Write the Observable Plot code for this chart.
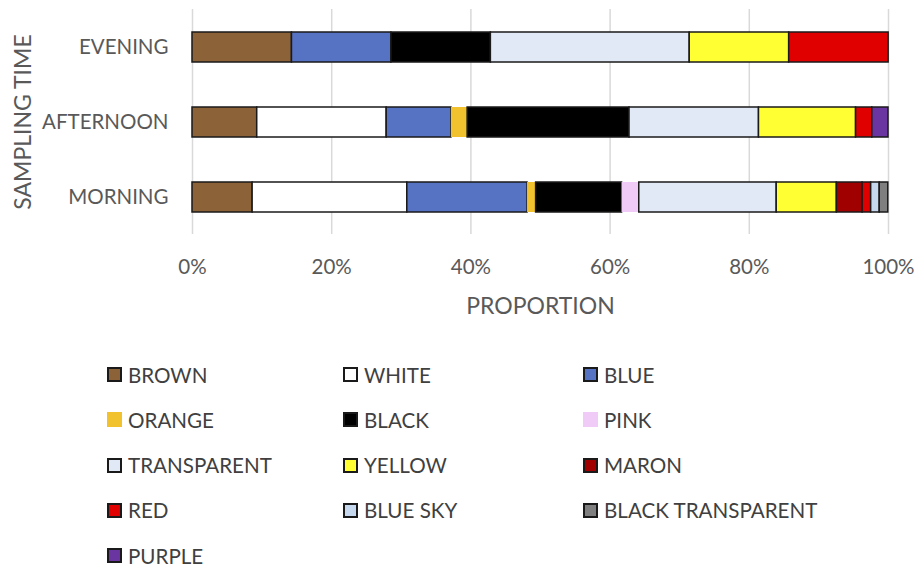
<!DOCTYPE html>
<html><head><meta charset="utf-8">
<script src="https://cdn.jsdelivr.net/npm/d3@7"></script>
<script src="https://cdn.jsdelivr.net/npm/@observablehq/plot@0.6"></script>
<style>
body{margin:0;background:#fff;font-family:Lato,"Open Sans",sans-serif}
#wrap{position:relative;width:919px;height:568px;overflow:hidden}
#chart svg{display:block}
.item{position:absolute;display:flex;align-items:center;height:45px;font-size:20.6px;color:#404040;white-space:nowrap}
.sw{width:15px;height:15px;box-sizing:border-box;margin-right:6px}
</style>
</head><body>
<div id="wrap"><div id="chart"></div><div id="legend"></div></div>
<script>
const times = ["EVENING", "AFTERNOON", "MORNING"];
const categories = ["BROWN","WHITE","BLUE","ORANGE","BLACK","PINK","TRANSPARENT","YELLOW","MARON","RED","BLUE SKY","BLACK TRANSPARENT","PURPLE"];
const fills = ["#8c6239","#ffffff","#5672c3","#f2c12e","#000000","#f1cbf8","#e2e9f6","#ffff33","#a00000","#e00000","#c6d8ee","#7f7f7f","#6a35a0"];
const borderless = ["ORANGE","PINK"];
// proportions (%) per sampling time, in category order
const morning   = [8.64, 22.22, 17.28, 1.23, 12.35, 2.47, 19.75, 8.64, 3.70, 1.23, 1.23, 1.23, 0];
const afternoon = [9.30, 18.60, 9.30, 2.33, 23.26, 0, 18.60, 13.95, 0, 2.33, 0, 0, 2.33];
const evening   = [14.29, 0, 14.29, 0, 14.29, 0, 28.57, 14.29, 0, 14.29, 0, 0, 0];
const xTicks = [0, 20, 40, 60, 80, 100];

const series = {MORNING: morning, AFTERNOON: afternoon, EVENING: evening};
const rows = [];
for (const t of times) categories.forEach((c, i) => { if (series[t][i] > 0) rows.push({time: t, category: c, value: series[t][i]}); });

const chart = Plot.plot({
  width: 919, height: 330,
  marginLeft: 192, marginRight: 31, marginTop: 9, marginBottom: 96,
  style: {fontFamily: "Lato, 'Open Sans', sans-serif", fontSize: "20.5px", color: "#595959", background: "transparent"},
  x: {domain: [0, 100]},
  y: {domain: times, paddingInner: 0.6, paddingOuter: 0.3},
  color: {domain: categories, range: fills},
  marks: [
    Plot.gridX(xTicks, {stroke: "#d9d9d9", strokeOpacity: 1, strokeWidth: 1.5}),
    Plot.barX(rows, {x: "value", y: "time", fill: "category", order: null,
      stroke: d => borderless.includes(d.category) ? "none" : "#1a1a1a", strokeWidth: 1.5}),
    Plot.axisX(xTicks, {tickSize: 0, tickPadding: 25, tickFormat: d => d + "%", label: null, fontSize: 20.5}),
    Plot.axisY({tickSize: 0, tickPadding: 24, label: null, fontSize: 20.5}),
    Plot.text(["PROPORTION"], {text: d => d, frameAnchor: "bottom", dy: 79, fontSize: 23}),
    Plot.text(["SAMPLING TIME"], {text: d => d, frameAnchor: "left", textAnchor: "middle", dx: -169, rotate: -90, fontSize: 23})
  ]
});
document.getElementById("chart").appendChild(chart);

const legend = document.getElementById("legend");
const colX = [107, 343, 583];
categories.forEach((c, i) => {
  const it = document.createElement("div");
  it.className = "item";
  it.style.left = colX[i % 3] + "px";
  it.style.top = (352 + Math.floor(i / 3) * 45.3) + "px";
  const sw = document.createElement("span");
  sw.className = "sw";
  sw.style.background = fills[i];
  sw.style.border = borderless.includes(c) ? "none" : "2px solid #1a1a1a";
  it.appendChild(sw);
  const tx = document.createElement("span");
  tx.textContent = c;
  it.appendChild(tx);
  legend.appendChild(it);
});
</script>
</body></html>
